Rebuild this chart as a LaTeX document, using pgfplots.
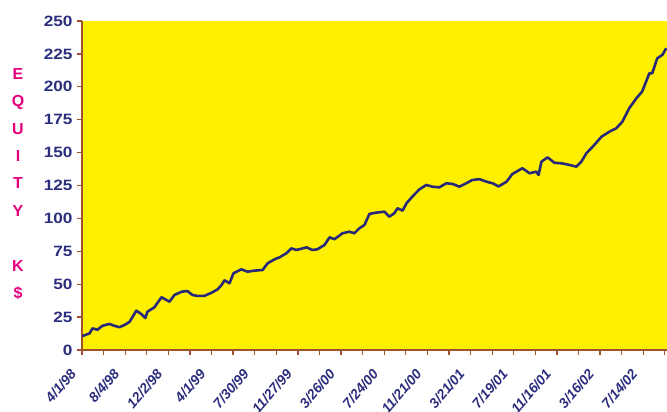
\documentclass[border=0pt]{standalone}
\usepackage{pgfplots}
\pgfplotsset{compat=1.18}
\usepackage{fontspec}
\setmainfont{Liberation Sans}

\definecolor{plotyellow}{RGB}{255,240,0}
\definecolor{axisbrown}{RGB}{160,82,45}
\definecolor{navy}{RGB}{43,45,125}
\definecolor{linenavy}{RGB}{40,42,120}
\definecolor{titlepink}{RGB}{228,0,124}

% equity in k$, x = days since 4/1/98
\pgfplotstableread{
day  eq
0    10.5
21   12.6
29   16.4
43   15.4
57   18.4
76   19.8
90   18.4
104  17.3
118  19.0
132  21.3
151  29.9
165  27.3
176  24.3
182  29.1
201  32.4
221  40.1
243  36.7
257  41.8
277  44.3
293  44.8
307  41.8
321  41.1
340  41.1
360  43.5
377  46.1
388  49.4
396  53.0
410  50.7
421  58.3
443  61.3
460  59.5
479  60.3
502  60.8
516  65.9
535  68.9
549  70.4
568  73.5
582  77.2
596  76.0
624  78.0
640  76.0
654  76.5
674  79.8
688  85.6
702  84.2
724  88.7
743  89.9
757  88.7
771  92.5
785  95.0
799  103.4
818  104.4
841  105.1
854  101.3
868  103.9
877  107.7
891  105.9
902  111.5
918  116.5
938  122.1
957  125.4
974  124.1
993  123.6
1013 126.7
1030 126.2
1049 124.1
1068 126.7
1085 129.2
1105 129.8
1124 127.9
1141 126.7
1158 124.3
1180 127.9
1196 133.7
1224 138.1
1244 134.3
1263 135.5
1269 133.0
1277 143.1
1294 146.4
1313 142.3
1335 141.8
1355 140.6
1374 139.3
1388 143.1
1402 149.5
1424 155.8
1444 162.1
1466 165.9
1485 168.5
1502 173.5
1521 183.7
1541 191.3
1557 196.4
1577 210.3
1585 210.3
1599 221.7
1613 224.2
1624 229.3
}\equity

\begin{document}
\begin{tikzpicture}
\clip (0,0) rectangle (667bp,412bp);
\begin{axis}[
  at={(82bp,62bp)}, anchor=south west,
  scale only axis,
  width=585bp, height=329bp,
  xmin=0, xmax=1626,
  ymin=0, ymax=250,
  axis x line*=bottom,
  axis y line*=left,
  axis line style={draw=axisbrown, line width=1.3bp},
  axis background/.style={fill=plotyellow},
  tick align=outside,
  major tick length=5bp,
  tick style={draw=axisbrown, line width=1.3bp},
  xtick={0,60,...,1620},
  xticklabels={4/1/98,,8/4/98,,12/2/98,,4/1/99,,7/30/99,,11/27/99,,3/26/00,,7/24/00,,11/21/00,,3/21/01,,7/19/01,,11/16/01,,3/16/02,,7/14/02,,},
  xticklabel style={xshift=-13bp, yshift=-11bp, rotate=50, anchor=north east,
    font=\fontsize{14}{14}\selectfont\bfseries\itshape, text=navy, inner sep=1pt},
  ytick={0,25,...,250},
  /pgf/number format/assume math mode=true,
  yticklabel={\scalebox{1.15}[1]{\pgfmathprintnumber{\tick}}},
  yticklabel style={font=\fontsize{15}{15}\selectfont\bfseries, text=navy, xshift=-1bp},
]
\addplot[color=linenavy, line width=2.6bp, line join=round] table[x=day, y=eq] {\equity};
\end{axis}
\node[align=center, text=titlepink, font=\fontsize{16}{27.5}\selectfont\bfseries, inner sep=0pt]
  at (18bp,228bp) {E\\Q\\U\\I\\T\\Y\\[27.5bp]K\\\$};
\end{tikzpicture}
\end{document}
